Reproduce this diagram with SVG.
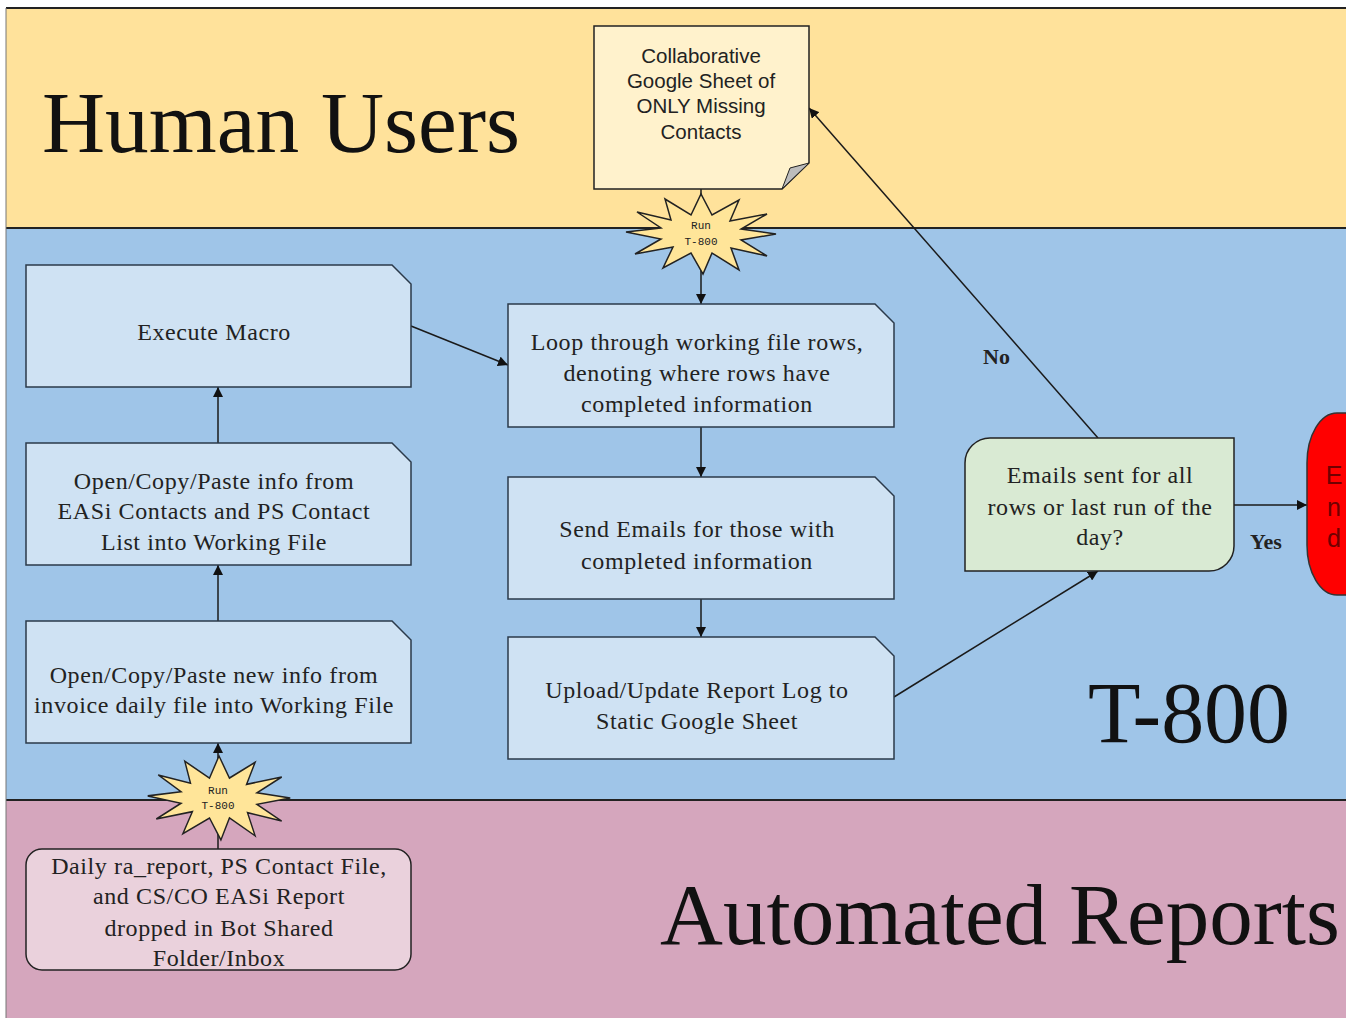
<svg xmlns="http://www.w3.org/2000/svg" width="1346" height="1018" viewBox="0 0 1346 1018">
<style>
.lane-line{stroke:#222;stroke-width:2}
.card{fill:#cfe2f3;stroke:#2b3a4a;stroke-width:1.5}
.t{font-family:"Liberation Serif","Times New Roman",serif;font-size:24px;letter-spacing:0.6px;fill:#222;text-anchor:middle}
.big{font-family:"Liberation Serif","Times New Roman",serif;font-size:86px;fill:#111}
.ns{font-family:"Liberation Sans",Arial,sans-serif;font-size:20.5px;fill:#222;text-anchor:middle}
.mono{font-family:"Liberation Mono","Courier New",monospace;font-size:11px;fill:#222;text-anchor:middle}
.lbl{font-family:"Liberation Serif","Times New Roman",serif;font-size:22px;font-weight:bold;fill:#222}
.conn{stroke:#1a1a1a;stroke-width:1.5;fill:none}
.burst{fill:#ffe599;stroke:#222;stroke-width:1.5}
.endt{font-family:"Liberation Sans",Arial,sans-serif;font-size:25px;fill:#700000;text-anchor:middle}
</style>
<defs>
<marker id="arr" viewBox="0 0 10 10" refX="10" refY="5" markerWidth="10" markerHeight="10" markerUnits="userSpaceOnUse" orient="auto">
<path d="M0,0 L10,5 L0,10 Z" fill="#111"/>
</marker>
<path id="star" d="M75,0 L40,6 L66,22 L30,14 L38,36 L11,19 L2,40 L-10,19 L-38,34 L-28,13 L-66,20 L-40,5 L-75,-2 L-40,-6 L-64,-22 L-30,-14 L-36,-35 L-10,-19 L0,-40 L11,-19 L38,-34 L29,-13 L66,-20 L40,-5 Z"/>
</defs>

<g id="lanes">
<rect x="6" y="8" width="1345" height="220" fill="#ffe29b"/>
<rect x="6" y="228" width="1345" height="572" fill="#9fc5e8"/>
<rect x="6" y="800" width="1345" height="220" fill="#d5a6bd"/>
<line class="lane-line" x1="6" y1="8" x2="1346" y2="8"/>
<line class="lane-line" x1="6" y1="228" x2="1346" y2="228"/>
<line class="lane-line" x1="6" y1="800" x2="1346" y2="800"/>
<line x1="6" y1="8" x2="6" y2="1018" stroke="#777" stroke-width="1"/>
<text class="big" x="42" y="152" textLength="478" lengthAdjust="spacingAndGlyphs">Human Users</text>
<text class="big" x="1088" y="742" textLength="202" lengthAdjust="spacingAndGlyphs">T-800</text>
<text class="big" x="660" y="944" textLength="680" lengthAdjust="spacingAndGlyphs">Automated Reports</text>
</g>

<g id="connectors">
<line class="conn" x1="701" y1="189" x2="701" y2="213"/>
<line class="conn" x1="701" y1="252" x2="701" y2="304" marker-end="url(#arr)"/>
<line class="conn" x1="411" y1="326" x2="508" y2="365" marker-end="url(#arr)"/>
<line class="conn" x1="218" y1="443" x2="218" y2="387" marker-end="url(#arr)"/>
<line class="conn" x1="218" y1="621" x2="218" y2="565" marker-end="url(#arr)"/>
<line class="conn" x1="218" y1="849" x2="218" y2="808"/>
<line class="conn" x1="218" y1="778" x2="218" y2="743" marker-end="url(#arr)"/>
<line class="conn" x1="701" y1="427" x2="701" y2="477" marker-end="url(#arr)"/>
<line class="conn" x1="701" y1="599" x2="701" y2="637" marker-end="url(#arr)"/>
<line class="conn" x1="894" y1="697" x2="1098" y2="571" marker-end="url(#arr)"/>
<line class="conn" x1="1098" y1="438" x2="809" y2="108" marker-end="url(#arr)"/>
<line class="conn" x1="1234" y1="505" x2="1307" y2="505" marker-end="url(#arr)"/>
<text class="lbl" x="983" y="364">No</text>
<text class="lbl" x="1250" y="549">Yes</text>
</g>

<g id="note">
<path d="M594,26 H809 V163 L782,189 H594 Z" fill="#fff2cc" stroke="#222" stroke-width="1.5"/>
<path d="M809,163 L782,189 L790,168 Z" fill="#bdbdbd" stroke="#222" stroke-width="1"/>
<text class="ns" x="701" y="63">Collaborative</text>
<text class="ns" x="701" y="88">Google Sheet of</text>
<text class="ns" x="701" y="113">ONLY Missing</text>
<text class="ns" x="701" y="139">Contacts</text>
</g>

<g id="burst1">
<use href="#star" class="burst" transform="translate(701,234)"/>
<text class="mono" x="701" y="229">Run</text>
<text class="mono" x="701" y="245">T-800</text>
</g>

<g id="burst2">
<use href="#star" class="burst" transform="translate(219,798) scale(0.95,1.05)"/>
<text class="mono" x="218" y="794">Run</text>
<text class="mono" x="218" y="809">T-800</text>
</g>

<g id="execute">
<path class="card" d="M26,265 H392 L411,284 V387 H26 Z"/>
<text class="t" x="214" y="340">Execute Macro</text>
</g>

<g id="open-info">
<path class="card" d="M26,443 H392 L411,462 V565 H26 Z"/>
<text class="t" x="214" y="489">Open/Copy/Paste info from</text>
<text class="t" x="214" y="519">EASi Contacts and PS Contact</text>
<text class="t" x="214" y="550">List into Working File</text>
</g>

<g id="open-new">
<path class="card" d="M26,621 H392 L411,640 V743 H26 Z"/>
<text class="t" x="214" y="683">Open/Copy/Paste new info from</text>
<text class="t" x="214" y="713">invoice daily file into Working File</text>
</g>

<g id="daily">
<rect x="26" y="849" width="385" height="121" rx="16" fill="#ead1dc" stroke="#222" stroke-width="1.5"/>
<text class="t" x="219" y="874">Daily ra_report, PS Contact File,</text>
<text class="t" x="219" y="904">and CS/CO EASi Report</text>
<text class="t" x="219" y="936">dropped in Bot Shared</text>
<text class="t" x="219" y="966">Folder/Inbox</text>
</g>

<g id="loop">
<path class="card" d="M508,304 H875 L894,323 V427 H508 Z"/>
<text class="t" x="697" y="350">Loop through working file rows,</text>
<text class="t" x="697" y="381">denoting where rows have</text>
<text class="t" x="697" y="412">completed information</text>
</g>

<g id="send">
<path class="card" d="M508,477 H875 L894,496 V599 H508 Z"/>
<text class="t" x="697" y="537">Send Emails for those with</text>
<text class="t" x="697" y="569">completed information</text>
</g>

<g id="upload">
<path class="card" d="M508,637 H875 L894,656 V759 H508 Z"/>
<text class="t" x="697" y="698">Upload/Update Report Log to</text>
<text class="t" x="697" y="729">Static Google Sheet</text>
</g>

<g id="decision">
<path d="M990,438 H1234 V546 A25,25 0 0 1 1209,571 H965 V463 A25,25 0 0 1 990,438 Z" fill="#d9ead3" stroke="#222" stroke-width="1.5"/>
<text class="t" x="1100" y="483">Emails sent for all</text>
<text class="t" x="1100" y="515">rows or last run of the</text>
<text class="t" x="1100" y="545">day?</text>
</g>

<g id="end">
<path d="M1352,413 H1337 A30,50 0 0 0 1307,463 V545 A30,50 0 0 0 1337,595 H1352 Z" fill="#ff0000" stroke="#333" stroke-width="1.5"/>
<text class="endt" x="1334" y="484">E</text>
<text class="endt" x="1334" y="516">n</text>
<text class="endt" x="1334" y="547">d</text>
</g>
</svg>
